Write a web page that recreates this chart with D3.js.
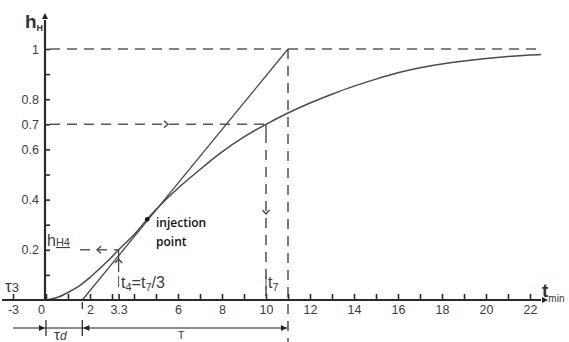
<!DOCTYPE html>
<html>
<head>
<meta charset="utf-8">
<script src="https://cdn.jsdelivr.net/npm/d3@7"></script>
<style>
  body { margin: 0; background: #fff; }
  svg { display: block; font-family: "Liberation Sans", Arial, sans-serif; }
</style>
</head>
<body>
<div id="chart"></div>
<script>
// response curve h_H(t)
var curveT = [0, 0.5, 1, 1.5, 2, 2.5, 3, 3.3, 4, 4.6, 5, 6, 7, 8, 9, 10, 11, 12, 13, 14, 15, 16, 17, 18, 19, 20, 21, 22, 22.5];
var curveH = [0, 0.01, 0.03, 0.055, 0.09, 0.13, 0.172, 0.2, 0.26, 0.322, 0.36, 0.445, 0.52, 0.59, 0.65, 0.7, 0.745, 0.785, 0.82, 0.852, 0.88, 0.905, 0.925, 0.94, 0.952, 0.962, 0.97, 0.976, 0.978];

// tangent through the injection point
var tangentT = [1.65, 11];
var tangentH = [0, 1];

var injectionT = 4.6, injectionH = 0.322;
var tauD = 1.65, t4 = 3.3, t7 = 10, bigT = 11;

var xTicks = [-3, 0, 1, 2, 3, 3.3, 4, 5, 6, 7, 8, 9, 10, 11, 12, 13, 14, 15, 16, 17, 18, 19, 20, 21, 22];
var xLabels = [-3, 0, 2, 3.3, 6, 8, 10, 12, 14, 16, 18, 20, 22];
var yTicks = [0.1, 0.2, 0.3, 0.4, 0.5, 0.6, 0.7, 0.8, 0.9, 1];
var yLabels = [0.2, 0.4, 0.6, 0.7, 0.8, 1];

var W = 569, H = 342;
var svg = d3.select("#chart").append("svg").attr("width", W).attr("height", H);

var x = d3.scaleLinear().domain([-3, 0, 23]).range([13, 46, 552]);
var y = d3.scaleLinear().domain([0, 1]).range([300, 49]);

var axisCol = "#2a2a2a", txtCol = "#3c3c3c", dashCol = "#5a5a5a", lineCol = "#4a4a4a";

function chevron(cx, cy, dir, col) {
    // open arrow head, dir in degrees (0 = pointing right)
    svg.append("path")
        .attr("d", "M-4,-3.5L0,0L-4,3.5")
        .attr("transform", "translate(" + cx + "," + cy + ") rotate(" + dir + ")")
        .attr("fill", "none").attr("stroke", col || "#333").attr("stroke-width", 1.3);
}
function solidHead(cx, cy, dir) {
    svg.append("path")
        .attr("d", "M-6,-3L0,0L-6,3Z")
        .attr("transform", "translate(" + cx + "," + cy + ") rotate(" + dir + ")")
        .attr("fill", "#222");
}
function dashed(x1, y1, x2, y2) {
    svg.append("line").attr("x1", x1).attr("y1", y1).attr("x2", x2).attr("y2", y2)
        .attr("stroke", dashCol).attr("stroke-width", 1.6).attr("stroke-dasharray", "10,7");
}

// dashed guide lines
dashed(50, y(1), 541, y(1));
dashed(50, y(0.7), x(t7), y(0.7));
chevron(168, y(0.7), 0, "#444");
svg.append("line").attr("x1", x(t7)).attr("y1", y(0.7)).attr("x2", x(t7)).attr("y2", 143)
    .attr("stroke", lineCol).attr("stroke-width", 1.4);
dashed(x(t7), 150, x(t7), 300);
chevron(x(t7), 214, 90, "#444");
dashed(x(bigT), y(1), x(bigT), 342);
dashed(80, y(0.2), x(t4), y(0.2));
chevron(97, y(0.2), 180, "#444");
svg.append("line").attr("x1", x(t4)).attr("y1", y(0.2)).attr("x2", x(t4)).attr("y2", 272)
    .attr("stroke", lineCol).attr("stroke-width", 1.3);
chevron(x(t4), 259, -90, "#444");

// curves
var line = d3.line().x(function (d) { return x(d[0]); }).y(function (d) { return y(d[1]); });
svg.append("path")
    .datum(d3.zip(tangentT, tangentH))
    .attr("d", line)
    .attr("fill", "none").attr("stroke", lineCol).attr("stroke-width", 1.3);
svg.append("path")
    .datum(d3.zip(curveT, curveH))
    .attr("d", line.curve(d3.curveMonotoneX))
    .attr("fill", "none").attr("stroke", lineCol).attr("stroke-width", 1.5);

svg.append("circle").attr("cx", x(injectionT)).attr("cy", y(injectionH)).attr("r", 2.3).attr("fill", "#111");
svg.append("text").attr("x", 156).attr("y", 227).attr("font-family", "'Open Sans', sans-serif")
    .attr("font-weight", 600).attr("font-size", 12).attr("fill", "#111").text("injection");
svg.append("text").attr("x", 156).attr("y", 246).attr("font-family", "'Open Sans', sans-serif")
    .attr("font-weight", 600).attr("font-size", 12).attr("fill", "#111").text("point");

// x axis
var xAxis = d3.axisBottom(x).tickValues(xTicks).tickSize(-6).tickPadding(5)
    .tickFormat(function (d) { return xLabels.indexOf(d) >= 0 ? d : ""; });
var gx = svg.append("g").attr("transform", "translate(0,300)").call(xAxis);
gx.select(".domain").remove();
gx.selectAll(".tick line").attr("stroke", axisCol).attr("stroke-width", 1.6);
gx.selectAll(".tick text").attr("font-size", 12.5).attr("fill", txtCol);
gx.selectAll(".tick").filter(function (d) { return d === 0; }).select("text").attr("dx", -5);
svg.append("line").attr("x1", 2).attr("y1", 300).attr("x2", 541).attr("y2", 300)
    .attr("stroke", axisCol).attr("stroke-width", 2.2);
solidHead(548, 300, 0);

// y axis
var yAxis = d3.axisLeft(y).tickValues(yTicks).tickSize(-5).tickPadding(6)
    .tickFormat(function (d) { return yLabels.indexOf(d) >= 0 ? d : ""; });
var gy = svg.append("g").attr("transform", "translate(45,0)").call(yAxis);
gy.select(".domain").remove();
gy.selectAll(".tick line").attr("stroke", axisCol).attr("stroke-width", 1.6);
gy.selectAll(".tick text").attr("font-size", 12.5).attr("fill", txtCol);
svg.append("line").attr("x1", 45).attr("y1", 300).attr("x2", 45).attr("y2", 20)
    .attr("stroke", axisCol).attr("stroke-width", 2.2);
solidHead(45, 13, -90);

// axis titles
var hT = svg.append("text").attr("x", 25).attr("y", 28).attr("fill", "#333")
    .attr("font-size", 19).attr("font-weight", "bold");
hT.append("tspan").text("h");
hT.append("tspan").attr("font-size", 9).attr("dy", 3).text("H");

var tT = svg.append("text").attr("x", 542).attr("y", 297).attr("fill", "#333")
    .attr("font-size", 19).attr("font-weight", "bold");
tT.append("tspan").text("t");
tT.append("tspan").attr("font-size", 10).attr("font-weight", "normal").attr("dy", 5).text("min");

// annotations
var tau3 = svg.append("text").attr("x", 5).attr("y", 292).attr("fill", txtCol).attr("font-size", 17);
tau3.append("tspan").text("τ");
tau3.append("tspan").attr("font-size", 13).text("3");

var hh4 = svg.append("text").attr("x", 47).attr("y", 246).attr("fill", txtCol).attr("font-size", 16);
hh4.append("tspan").text("h");
hh4.append("tspan").attr("font-size", 11).attr("text-decoration", "underline").text("H4");

svg.append("line").attr("x1", x(t4)).attr("y1", 276).attr("x2", x(t4)).attr("y2", 287)
    .attr("stroke", "#555").attr("stroke-width", 1);
var t4T = svg.append("text").attr("x", 121).attr("y", 288).attr("fill", txtCol).attr("font-size", 16);
t4T.append("tspan").text("t");
t4T.append("tspan").attr("font-size", 11).attr("dy", 3).text("4");
t4T.append("tspan").attr("dy", -3).text("=t");
t4T.append("tspan").attr("font-size", 11).attr("dy", 3).text("7");
t4T.append("tspan").attr("dy", -3).text("/3");

svg.append("line").attr("x1", x(t7)).attr("y1", 276).attr("x2", x(t7)).attr("y2", 290)
    .attr("stroke", "#555").attr("stroke-width", 1);
var t7T = svg.append("text").attr("x", 268).attr("y", 288).attr("fill", txtCol).attr("font-size", 16);
t7T.append("tspan").text("t");
t7T.append("tspan").attr("font-size", 11).attr("dy", 3).text("7");

// dimension line under the axis
svg.append("line").attr("x1", 13).attr("y1", 328).attr("x2", x(bigT)).attr("y2", 328)
    .attr("stroke", "#666").attr("stroke-width", 1.4);
[x(0), x(tauD)].forEach(function (px) {
    svg.append("line").attr("x1", px).attr("y1", 320).attr("x2", px).attr("y2", 336)
        .attr("stroke", "#333").attr("stroke-width", 1.3);
});
svg.append("line").attr("x1", x(tauD)).attr("y1", 302).attr("x2", x(tauD)).attr("y2", 309)
    .attr("stroke", "#333").attr("stroke-width", 1.3);
solidHead(x(0) - 1, 328, 0);
solidHead(x(tauD) + 1, 328, 180);
solidHead(x(bigT) - 1, 328, 0);

var tauDT = svg.append("text").attr("x", 54).attr("y", 340).attr("fill", txtCol).attr("font-size", 15);
tauDT.append("tspan").text("τ");
tauDT.append("tspan").attr("font-size", 12).attr("font-style", "italic").text("d");
svg.append("text").attr("x", 181).attr("y", 339).attr("text-anchor", "middle")
    .attr("fill", txtCol).attr("font-size", 11).text("T");
</script>
</body>
</html>
